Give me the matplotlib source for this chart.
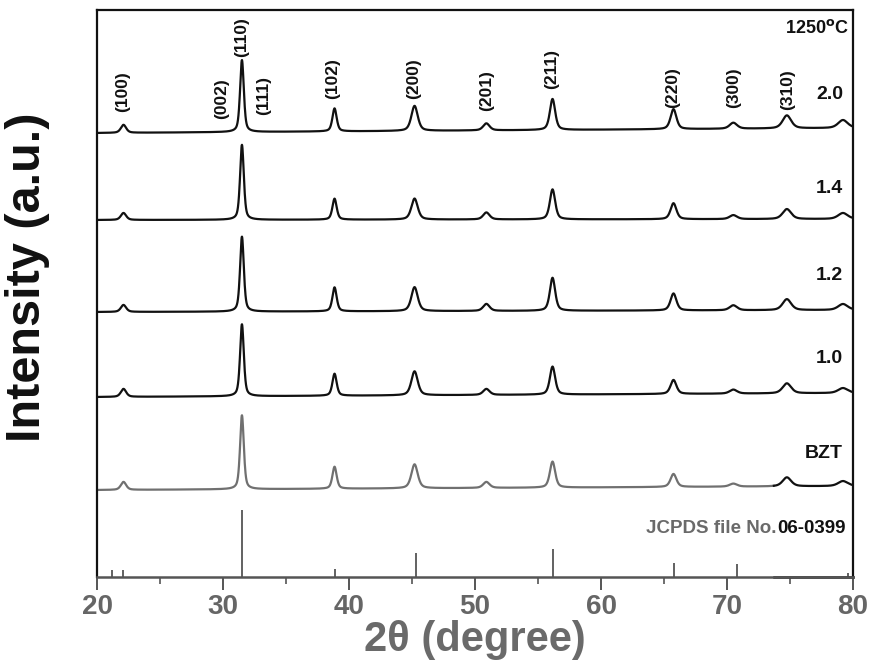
import numpy as np
import matplotlib
matplotlib.use("Agg")
import matplotlib.pyplot as plt
from matplotlib.ticker import MultipleLocator

plt.rcParams["font.family"] = ["Liberation Sans", "DejaVu Sans"]
plt.rcParams["font.weight"] = "bold"

# peak positions (2theta) and widths
peak_pos = [22.1, 31.5, 38.85, 45.2, 50.9, 56.15, 65.75, 70.5, 74.75, 79.2]
peak_fwhm = [0.5, 0.35, 0.4, 0.6, 0.6, 0.5, 0.55, 0.7, 0.8, 0.9]

# traces: name, baseline (left, right), peak heights
trace_names = ["2.0", "1.4", "1.2", "1.0", "BZT"]
base_left = [444, 357, 265, 180, 87]
base_right = [449, 358, 267, 184, 91]
h_20 = [8, 72, 23, 25, 7, 31, 20, 6, 13, 8]
h_14 = [7, 75, 21, 21, 7, 30, 16, 4, 10, 6]
h_12 = [7, 75, 24, 24, 7, 33, 17, 5, 11, 6]
h_10 = [8, 72, 22, 24, 6, 28, 14, 4, 10, 5]
h_bzt = [8, 74, 22, 24, 6, 26, 13, 3, 9, 5]
heights = [h_20, h_14, h_12, h_10, h_bzt]
trace_colors = ["#111111", "#111111", "#111111", "#111111", "#707070"]
name_y = [482, 389, 302, 219, 124]

# JCPDS 06-0399 reference lines
jcpds_pos = [21.2, 22.1, 31.5, 38.9, 45.3, 56.2, 65.8, 70.8, 79.6]
jcpds_int = [7, 7, 67, 8, 24, 28, 14, 13, 4]

# hkl labels
hkl = ["(100)", "(002)", "(110)", "(111)", "(102)", "(200)", "(201)",
       "(211)", "(220)", "(300)", "(310)"]
hkl_x = [22.0, 29.9, 31.5, 33.2, 38.7, 45.1, 50.9, 56.1, 65.7, 70.5, 74.8]
hkl_y = [485, 478, 540, 481, 498, 498, 486, 508, 489, 489, 487]


def profile(x, pos, fwhm, h):
    y = np.zeros_like(x)
    for p, w, a in zip(pos, fwhm, h):
        g = np.exp(-4 * np.log(2) * ((x - p) / w) ** 2)
        l = 1 / (1 + 4 * ((x - p) / w) ** 2)
        y += a * (0.5 * g + 0.5 * l)
    return y


fig = plt.figure(figsize=(8.75, 6.66), dpi=100)
ax = fig.add_axes([0.1109, 0.1336, 0.8640, 0.8514])

x = np.linspace(20, 80, 3000)
for name, bl, br, h, c in zip(trace_names, base_left, base_right, heights, trace_colors):
    base = bl + (br - bl) * (x - 20) / 60
    y = base + profile(x, peak_pos, peak_fwhm, h)
    if name == "BZT":
        # the scan turns dark again near the right end
        m = x <= 73.7
        ax.plot(x[m], y[m], color=c, lw=1.6)
        ax.plot(x[~m], y[~m], color="#111111", lw=1.6)
    else:
        ax.plot(x, y, color=c, lw=1.6)

ax.vlines(jcpds_pos, 0, jcpds_int, color="#555555", lw=1.3)

for lab, xx, yy in zip(hkl, hkl_x, hkl_y):
    ax.text(xx, yy, lab, rotation=90, ha="center", va="center", fontsize=12.5,
            fontweight="bold", color="#111111")

for name, yy in zip(trace_names, name_y):
    ax.text(79.2, yy, name, ha="right", va="center", fontsize=14,
            fontweight="bold", color="#111111")
ax.text(79.7, 549, "1250$^{\\mathbf{o}}$C", ha="right", va="center", fontsize=13,
        fontweight="bold", color="#111111")
t_no = ax.text(79.4, 49, "06-0399", ha="right", va="center", fontsize=13.5,
               fontweight="bold", color="#111111")
ax.annotate("JCPDS file No.", xy=(0, 0.5), xycoords=t_no, ha="right", va="center",
            fontsize=13.5, fontweight="bold", color="#6a6a6a")

ax.set_xlim(20, 80)
ax.set_ylim(0, 567)
ax.set_yticks([])
ax.xaxis.set_major_locator(MultipleLocator(10))
ax.xaxis.set_minor_locator(MultipleLocator(5))
ax.tick_params(axis="x", which="major", direction="out", length=9, width=1.4,
               color="#555555", labelsize=20, pad=3)
ax.tick_params(axis="x", which="minor", direction="out", length=5, width=1.2,
               color="#555555")
for lbl in ax.get_xticklabels():
    lbl.set_fontweight("bold")
    lbl.set_color("#666666")
ax.get_xticklabels()[-1].set_color("#111111")

for s in ["top", "right", "left"]:
    ax.spines[s].set_linewidth(1.6)
    ax.spines[s].set_color("#111111")
ax.spines["bottom"].set_linewidth(1.8)
ax.spines["bottom"].set_color("#555555")
ax.plot([73.7, 80], [0, 0], color="#111111", lw=1.8, clip_on=False)

ax.set_xlabel("2\u03b8 (degree)", fontsize=30, fontweight="bold", color="#6a6a6a",
              labelpad=0)
fig.text(0.032, 0.583, "Intensity (a.u.)", rotation=90, ha="center", va="center",
         fontsize=35, fontweight="bold", color="#111111")

fig.savefig("out.png", dpi=100)
